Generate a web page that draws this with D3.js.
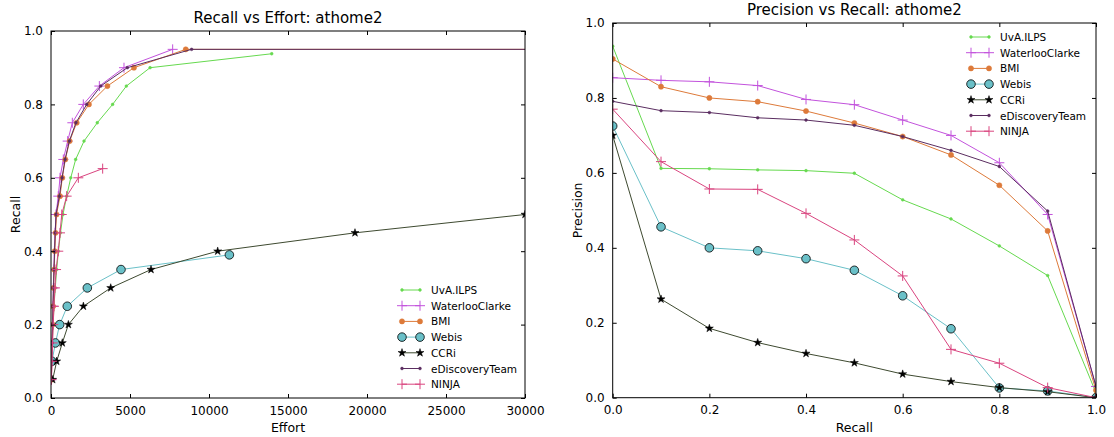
<!DOCTYPE html>
<html>
<head>
<meta charset="utf-8">
<script src="https://cdn.jsdelivr.net/npm/d3@7"></script>
<style>
  body { margin: 0; background: #fff; }
  svg { font-family: 'DejaVu Sans', sans-serif; }
  .tick text { font-size: 12px; fill: #000; }
  .tick line { stroke: #000; }
</style>
</head>
<body>
<div id="vis"></div>
<script>
const teams = ['UvA.ILPS', 'WaterlooClarke', 'BMI', 'Webis', 'CCRi', 'eDiscoveryTeam', 'NINJA'];

// Recall vs Effort (left)
const uvaEffort = [15, 40, 80, 130, 190, 270, 360, 470, 600, 760, 990, 1250, 1560, 2090, 2930, 3900, 4770, 6270, 13970];
const uvaRecall = [0.05, 0.1, 0.15, 0.2, 0.25, 0.3, 0.35, 0.4, 0.45, 0.5, 0.55, 0.6, 0.65, 0.7, 0.75, 0.8, 0.85, 0.9, 0.938];
const waterlooEffort = [20, 45, 70, 95, 120, 150, 180, 215, 260, 316, 460, 570, 780, 1055, 1350, 2045, 3060, 4620, 7700];
const waterlooRecall = [0.05, 0.1, 0.15, 0.2, 0.25, 0.3, 0.35, 0.4, 0.45, 0.5, 0.55, 0.6, 0.65, 0.7, 0.75, 0.8, 0.85, 0.9, 0.95];
const bmiEffort = [25, 50, 80, 105, 135, 165, 200, 240, 290, 350, 570, 715, 905, 1180, 1625, 2400, 3570, 5250, 8530, 45000];
const bmiRecall = [0.05, 0.1, 0.15, 0.2, 0.25, 0.3, 0.35, 0.4, 0.45, 0.5, 0.55, 0.6, 0.65, 0.7, 0.75, 0.8, 0.85, 0.9, 0.95, 0.95];
const webisEffort = [60, 280, 550, 1030, 2300, 4430, 11290];
const webisRecall = [0.1, 0.15, 0.2, 0.25, 0.3, 0.35, 0.39];
const ccriEffort = [105, 360, 715, 1100, 2050, 3780, 6330, 10550, 19240, 30000];
const ccriRecall = [0.05, 0.1, 0.15, 0.2, 0.25, 0.3, 0.35, 0.4, 0.45, 0.5];
const edtEffort = [22, 48, 75, 100, 128, 158, 190, 225, 265, 320, 530, 700, 890, 1160, 1580, 2260, 3150, 4830, 8900, 45000];
const edtRecall = [0.05, 0.1, 0.15, 0.2, 0.25, 0.3, 0.35, 0.4, 0.45, 0.5, 0.55, 0.6, 0.65, 0.7, 0.75, 0.8, 0.85, 0.9, 0.95, 0.95];
const ninjaEffort = [30, 60, 100, 140, 190, 250, 320, 460, 570, 680, 990, 1730, 3270];
const ninjaRecall = [0.05, 0.1, 0.15, 0.2, 0.25, 0.3, 0.35, 0.4, 0.45, 0.5, 0.55, 0.6, 0.625];

// Precision vs Recall (right)
const recallLevels = [0, 0.1, 0.2, 0.3, 0.4, 0.5, 0.6, 0.7, 0.8, 0.9, 1.0];
const uvaPrecision = [0.938, 0.612, 0.611, 0.608, 0.606, 0.599, 0.528, 0.477, 0.405, 0.326, 0.013];
const waterlooPrecision = [0.854, 0.847, 0.843, 0.833, 0.796, 0.782, 0.741, 0.700, 0.627, 0.489, 0.03];
const bmiPrecision = [0.904, 0.830, 0.800, 0.790, 0.765, 0.733, 0.697, 0.648, 0.567, 0.445, 0.02];
const webisPrecision = [0.725, 0.456, 0.400, 0.392, 0.371, 0.340, 0.272, 0.184, 0.026, 0.018, 0];
const ccriPrecision = [0.700, 0.263, 0.185, 0.147, 0.118, 0.093, 0.063, 0.043, 0.027, 0.016, 0];
const edtPrecision = [0.791, 0.766, 0.761, 0.747, 0.741, 0.727, 0.697, 0.660, 0.617, 0.498, 0.03];
const ninjaPrecision = [0.770, 0.630, 0.557, 0.556, 0.492, 0.421, 0.325, 0.129, 0.092, 0.027, 0];

const effortTicks = [0, 5000, 10000, 15000, 20000, 25000, 30000];
const unitTicks = [0, 0.2, 0.4, 0.6, 0.8, 1.0];

const styles = {
  'UvA.ILPS':       {color: '#66d94f', marker: 'dot',    fill: '#66d94f', stroke: '#66d94f'},
  'WaterlooClarke': {color: '#c252dc', marker: 'plus',   fill: 'none',    stroke: '#c252dc'},
  'BMI':            {color: '#dd7a3a', marker: 'circle', fill: '#dd7a3a', stroke: '#dd7a3a'},
  'Webis':          {color: '#6ac0c8', marker: 'big',    fill: '#6ac0c8', stroke: '#000'},
  'CCRi':           {color: '#3e4a30', marker: 'star',   fill: '#000',    stroke: '#000'},
  'eDiscoveryTeam': {color: '#5a2d60', marker: 'dot',    fill: '#5a2d60', stroke: '#5a2d60'},
  'NINJA':          {color: '#d9447f', marker: 'plus',   fill: 'none',    stroke: '#d9447f'}
};

const leftSeries = [
  [uvaEffort, uvaRecall], [waterlooEffort, waterlooRecall], [bmiEffort, bmiRecall],
  [webisEffort, webisRecall], [ccriEffort, ccriRecall], [edtEffort, edtRecall], [ninjaEffort, ninjaRecall]
];
const rightSeries = [uvaPrecision, waterlooPrecision, bmiPrecision, webisPrecision, ccriPrecision, edtPrecision, ninjaPrecision];

const svg = d3.select('#vis').append('svg')
  .attr('width', 1114)
  .attr('height', 437);

function drawMarker(g, name, x, y) {
  const st = styles[name];
  if (st.marker === 'plus') {
    g.append('path')
      .attr('d', `M${x - 5},${y}H${x + 5}M${x},${y - 5}V${y + 5}`)
      .attr('stroke', st.stroke).attr('stroke-width', 1).attr('fill', 'none');
  } else if (st.marker === 'star') {
    g.append('path')
      .attr('d', d3.symbol(d3.symbolStar).size(20)())
      .attr('transform', `translate(${x},${y})`)
      .attr('fill', st.fill).attr('stroke', st.stroke).attr('stroke-width', 0.5);
  } else {
    const r = st.marker === 'big' ? 4.3 : st.marker === 'circle' ? 2.6 : 1.4;
    g.append('circle')
      .attr('cx', x).attr('cy', y).attr('r', r)
      .attr('fill', st.fill).attr('stroke', st.stroke)
      .attr('stroke-width', st.marker === 'big' ? 0.8 : 0.5);
  }
}

function makePanel(opts) {
  const g = svg.append('g');
  const x = opts.x, y = opts.y;
  const [x0, x1] = x.range();
  const [y0, y1] = y.range();

  g.append('clipPath').attr('id', opts.id)
    .append('rect').attr('x', x0).attr('y', y1).attr('width', x1 - x0).attr('height', y0 - y1);

  const plot = g.append('g').attr('clip-path', `url(#${opts.id})`);
  teams.forEach((name, i) => {
    const pts = opts.points(i);
    plot.append('path')
      .datum(pts)
      .attr('fill', 'none')
      .attr('stroke', styles[name].color)
      .attr('stroke-width', 1)
      .attr('d', d3.line().x(d => x(d[0])).y(d => y(d[1])));
    const mg = plot.append('g');
    pts.forEach(d => drawMarker(mg, name, x(d[0]), y(d[1])));
  });

  // frame
  g.append('rect')
    .attr('x', x0).attr('y', y1).attr('width', x1 - x0).attr('height', y0 - y1)
    .attr('fill', 'none').attr('stroke', '#000').attr('stroke-width', 1);

  const bottom = g.append('g').attr('transform', `translate(0,${y0})`)
    .call(d3.axisBottom(x).tickValues(opts.xTicks).tickFormat(opts.xFormat).tickSizeInner(-4).tickSizeOuter(0).tickPadding(8));
  const top = g.append('g').attr('transform', `translate(0,${y1})`)
    .call(d3.axisTop(x).tickValues(opts.xTicks).tickFormat('').tickSizeInner(-4).tickSizeOuter(0));
  const left = g.append('g').attr('transform', `translate(${x0},0)`)
    .call(d3.axisLeft(y).tickValues(unitTicks).tickFormat(d3.format('.1f')).tickSizeInner(-4).tickSizeOuter(0).tickPadding(8));
  const right = g.append('g').attr('transform', `translate(${x1},0)`)
    .call(d3.axisRight(y).tickValues(unitTicks).tickFormat('').tickSizeInner(-4).tickSizeOuter(0));
  [bottom, top, left, right].forEach(a => a.select('.domain').remove());
  [bottom, left].forEach(a => a.selectAll('.tick text').attr('font-family', 'DejaVu Sans').style('font-size', '12px'));

  g.append('text')
    .attr('x', (x0 + x1) / 2).attr('y', y1 - 8)
    .attr('text-anchor', 'middle').style('font-size', '15px')
    .text(opts.title);
  g.append('text')
    .attr('x', (x0 + x1) / 2).attr('y', 432)
    .attr('text-anchor', 'middle').style('font-size', '12.5px')
    .text(opts.xLabel);
  g.append('text')
    .attr('transform', 'rotate(-90)')
    .attr('x', -(y0 + y1) / 2).attr('y', x0 - opts.yLabelOffset)
    .attr('text-anchor', 'middle').style('font-size', '12.5px')
    .text(opts.yLabel);

  // legend
  const lg = g.append('g');
  teams.forEach((name, i) => {
    const ly = opts.legendY + i * 15.7;
    const lx = opts.legendX;
    lg.append('line')
      .attr('x1', lx).attr('x2', lx + 18).attr('y1', ly).attr('y2', ly)
      .attr('stroke', styles[name].color).attr('stroke-width', 1);
    drawMarker(lg, name, lx, ly);
    drawMarker(lg, name, lx + 18, ly);
    lg.append('text')
      .attr('x', lx + 29).attr('y', ly + 4)
      .style('font-size', '10.5px')
      .text(name);
  });
}

makePanel({
  id: 'clipLeft',
  x: d3.scaleLinear().domain([0, 30000]).range([51, 525]),
  y: d3.scaleLinear().domain([0, 1]).range([398, 31]),
  xTicks: effortTicks,
  xFormat: d3.format('d'),
  points: i => leftSeries[i][0].map((e, k) => [e, leftSeries[i][1][k]]),
  title: 'Recall vs Effort: athome2',
  xLabel: 'Effort',
  yLabel: 'Recall',
  yLabelOffset: 31,
  legendX: 402,
  legendY: 290
});

makePanel({
  id: 'clipRight',
  x: d3.scaleLinear().domain([0, 1]).range([612.7, 1096]),
  y: d3.scaleLinear().domain([0, 1]).range([397.7, 23]),
  xTicks: unitTicks,
  xFormat: d3.format('.1f'),
  points: i => recallLevels.map((r, k) => [r, rightSeries[i][k]]),
  title: 'Precision vs Recall: athome2',
  xLabel: 'Recall',
  yLabel: 'Precision',
  yLabelOffset: 31,
  legendX: 971,
  legendY: 37
});
</script>
</body>
</html>
